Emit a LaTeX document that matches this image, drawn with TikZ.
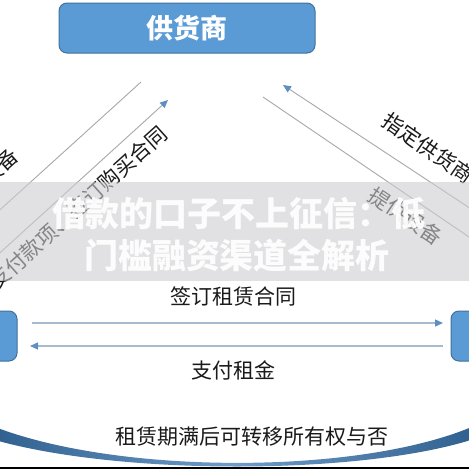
\documentclass[tikz,border=0pt]{standalone}
\usepackage{fontspec}
\setmainfont{Noto Sans CJK SC}
\usetikzlibrary{arrows.meta}
\definecolor{boxblue}{HTML}{5B9BD5}
\definecolor{boxedge}{HTML}{41719C}
\definecolor{tipblue}{HTML}{5E8FC3}
\definecolor{diagline}{HTML}{A8A8A8}
\definecolor{hline}{HTML}{A8BBCD}
\definecolor{txt}{HTML}{1A1A1A}
\definecolor{crdark}{HTML}{30608F}
\definecolor{crmid}{HTML}{6F9CC9}
\definecolor{baseline}{HTML}{7F8FA8}
\definecolor{wmgray}{HTML}{CDCDD1}
\tikzset{
  entity/.style={draw=boxedge, line width=1pt, fill=boxblue, rounded corners=8pt,
    minimum width=256pt, minimum height=50pt, inner sep=0pt},
  sidebox/.style={entity, minimum width=114pt},
  lbl/.style={font=\fontsize{21}{25}\selectfont, text=txt, inner sep=0pt},
  diag/.style={draw=diagline, line width=0.9pt},
  horiz/.style={draw=hline, line width=1.3pt},
  tip/.style={-{Triangle[length=8pt,width=7pt,color=tipblue]}},
  wm/.style={font=\fontsize{34}{40}\selectfont\bfseries, text=white, text opacity=0.93, inner sep=0pt}
}
\begin{document}
\begin{tikzpicture}[x=1pt,y=-1pt]
\useasboundingbox (0,0) rectangle (469,469);
\clip (0,0) rectangle (469,469);
\fill[white] (0,0) rectangle (469,469);

% boxes
\node[entity, font=\fontsize{27}{30}\selectfont\bfseries, text=white] (sup) at (187,28) {供货商};
\node[sidebox] (lessor) at (-40,336) {};
\node[sidebox] (lessee) at (508,336) {};

% connector end points
\coordinate (lo1) at (141,82);
\coordinate (lo2) at (-30,237);
\coordinate (li1) at (-30,280);
\coordinate (li2) at (168,100);
\coordinate (ro1) at (500,228);
\coordinate (ro2) at (283,85);
\coordinate (ri1) at (263,97);
\coordinate (ri2) at (500,258);
\coordinate (ha1) at (32,323);
\coordinate (ha2) at (443,323);
\coordinate (hb1) at (443,346);
\coordinate (hb2) at (30,346);

% diagonal connectors
\draw[diag] (lo1) -- (lo2);
\draw[diag, tip] (li1) -- (li2);
\draw[diag, tip] (ro1) -- (ro2);
\draw[diag] (ri1) -- (ri2);

% horizontal connectors
\draw[horiz, tip] (ha1) -- (ha2);
\draw[horiz, tip] (hb1) -- (hb2);

% labels
\node[lbl, rotate=42] (l1) at (-16,181) {交付设备};
\node[lbl, rotate=42] (l2) at (78,207.5) {支付款项、签订购买合同};
\node[lbl, rotate=-35] (l3) at (428,148) {指定供货商};
\node[lbl, rotate=-34] (l4) at (406,216) {提供设备};
\node[lbl] (l5) at (233,297) {签订租赁合同};
\node[lbl] (l6) at (233,370) {支付租金};

% bottom crescent
\shade[left color=crdark, right color=crdark, middle color=crmid]
  (-5,440) .. controls (120,475.5) and (360,475.5) .. (474,439)
  -- (474,426) .. controls (360,475) and (120,475) .. (-5,427) -- cycle;
\fill[baseline] (0,466.5) rectangle (469,469);
\node[lbl] (l7) at (252,437) {租赁期满后可转移所有权与否};

% watermark banner
\fill[wmgray, opacity=0.6] (0,182) rectangle (469,281);
\node[wm] (w1) at (239,214) {借款的口子不上征信：低};
\node[wm] (w2) at (237,256) {门槛融资渠道全解析};
\end{tikzpicture}
\end{document}
